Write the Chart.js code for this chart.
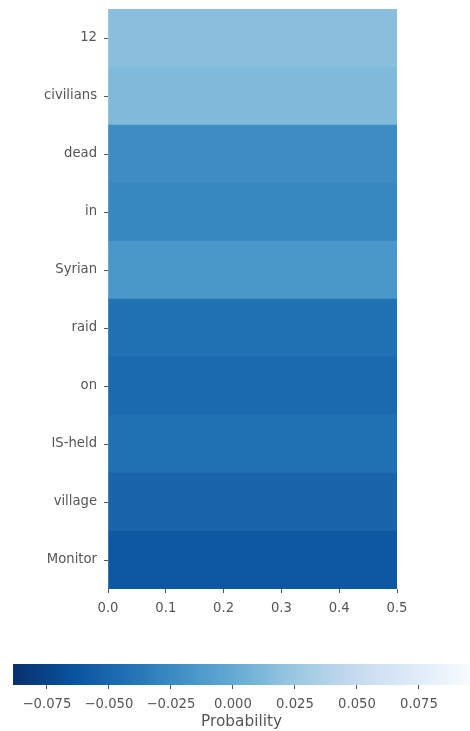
<!DOCTYPE html>
<html>
<head>
<meta charset="utf-8">
<script src="https://cdn.jsdelivr.net/npm/chart.js@4"></script>
<style>
    html, body { margin: 0; padding: 0; background: #fff; }
    canvas { display: block; }
</style>
</head>
<body>
<canvas id="heatChart" width="470" height="625"></canvas>
<canvas id="barChart" width="470" height="106"></canvas>
<script>
// ================================================================
// DATA
// ================================================================

const tokens = ['12', 'civilians', 'dead', 'in', 'Syrian', 'raid', 'on', 'IS-held', 'village', 'Monitor'];
const probabilities = [0.0172, 0.0130, -0.0231, -0.0272, -0.0150, -0.0427, -0.0483, -0.0437, -0.0510, -0.0603];
const xTicks = [0.0, 0.1, 0.2, 0.3, 0.4, 0.5];
const cellExtent = [0, 0.5];
const colorTicks = [-0.075, -0.050, -0.025, 0.000, 0.025, 0.050, 0.075];
const colorRange = [-0.0887, 0.0956];

// Blues colormap, reversed (dark = low)
const BLUES_R = [
    [0.000, [8, 48, 107]],
    [0.125, [8, 81, 156]],
    [0.250, [33, 113, 181]],
    [0.375, [66, 146, 198]],
    [0.500, [107, 174, 214]],
    [0.625, [158, 202, 225]],
    [0.750, [198, 219, 239]],
    [0.875, [222, 235, 247]],
    [1.000, [247, 251, 255]]
];

const TEXT_COLOR = '#555';
const FONT = 'DejaVu Sans';

function colorFor(value) {
    let t = (value - colorRange[0]) / (colorRange[1] - colorRange[0]);
    t = Math.max(0, Math.min(1, t));
    for (let i = 1; i < BLUES_R.length; i++) {
        const [t1, c1] = BLUES_R[i];
        const [t0, c0] = BLUES_R[i - 1];
        if (t <= t1) {
            const f = (t - t0) / (t1 - t0);
            const c = c0.map((v, k) => Math.round(v + (c1[k] - v) * f));
            return `rgb(${c[0]},${c[1]},${c[2]})`;
        }
    }
    return 'rgb(247,251,255)';
}

// ================================================================
// HEATMAP
// ================================================================

new Chart(document.getElementById('heatChart'), {
    type: 'bar',
    data: {
        labels: tokens,
        datasets: [{
            data: tokens.map(() => cellExtent),
            backgroundColor: probabilities.map(colorFor),
            borderWidth: 0,
            barPercentage: 1,
            categoryPercentage: 1
        }]
    },
    options: {
        indexAxis: 'y',
        responsive: false,
        animation: false,
        layout: { padding: { top: 9, right: 73, left: 0, bottom: 0 } },
        plugins: { legend: { display: false }, tooltip: { enabled: false } },
        scales: {
            x: {
                type: 'linear',
                min: 0,
                max: 0.5,
                afterBuildTicks: scale => { scale.ticks = xTicks.map(v => ({ value: v })); },
                afterFit: scale => {
                    scale.height = 36;
                    scale.paddingLeft = 0;
                    scale.paddingRight = 0;
                },
                border: { display: false },
                grid: { drawOnChartArea: false, tickLength: 4, tickColor: TEXT_COLOR },
                ticks: {
                    color: TEXT_COLOR,
                    padding: 8,
                    font: { family: FONT, size: 13.2 },
                    callback: v => v.toFixed(1)
                }
            },
            y: {
                afterFit: scale => {
                    scale.width = 108;
                    scale.paddingTop = 0;
                    scale.paddingBottom = 0;
                },
                border: { display: false },
                grid: { drawOnChartArea: false, offset: false, tickLength: 4, tickColor: TEXT_COLOR },
                ticks: {
                    color: TEXT_COLOR,
                    padding: 7,
                    font: { family: FONT, size: 13.2 }
                }
            }
        }
    }
});

// ================================================================
// COLORBAR
// ================================================================

function colorbarGradient(context) {
    const chart = context.chart;
    const area = chart.chartArea;
    if (!area) return 'rgb(107,174,214)';
    const g = chart.ctx.createLinearGradient(area.left, 0, area.right, 0);
    BLUES_R.forEach(([t, c]) => g.addColorStop(t, `rgb(${c[0]},${c[1]},${c[2]})`));
    return g;
}

new Chart(document.getElementById('barChart'), {
    type: 'bar',
    data: {
        labels: ['Probability'],
        datasets: [{
            data: [colorRange],
            backgroundColor: colorbarGradient,
            borderWidth: 0,
            barPercentage: 1,
            categoryPercentage: 1
        }]
    },
    options: {
        indexAxis: 'y',
        responsive: false,
        animation: false,
        layout: { padding: { top: 39, right: 0, left: 13, bottom: 0 } },
        plugins: { legend: { display: false }, tooltip: { enabled: false } },
        scales: {
            x: {
                type: 'linear',
                min: colorRange[0],
                max: colorRange[1],
                afterBuildTicks: scale => { scale.ticks = colorTicks.map(v => ({ value: v })); },
                afterFit: scale => { scale.height = 46; },
                border: { display: false },
                grid: { drawOnChartArea: false, tickLength: 4, tickColor: TEXT_COLOR },
                ticks: {
                    color: TEXT_COLOR,
                    padding: 8,
                    maxRotation: 0,
                    autoSkip: false,
                    font: { family: FONT, size: 13.2 },
                    callback: v => (v < 0 ? '\u2212' : '') + Math.abs(v).toFixed(3)
                },
                title: {
                    display: true,
                    text: 'Probability',
                    color: TEXT_COLOR,
                    padding: { top: 0, bottom: 0 },
                    font: { family: FONT, size: 15.3 }
                }
            },
            y: { display: false }
        }
    }
});
</script>
</body>
</html>
